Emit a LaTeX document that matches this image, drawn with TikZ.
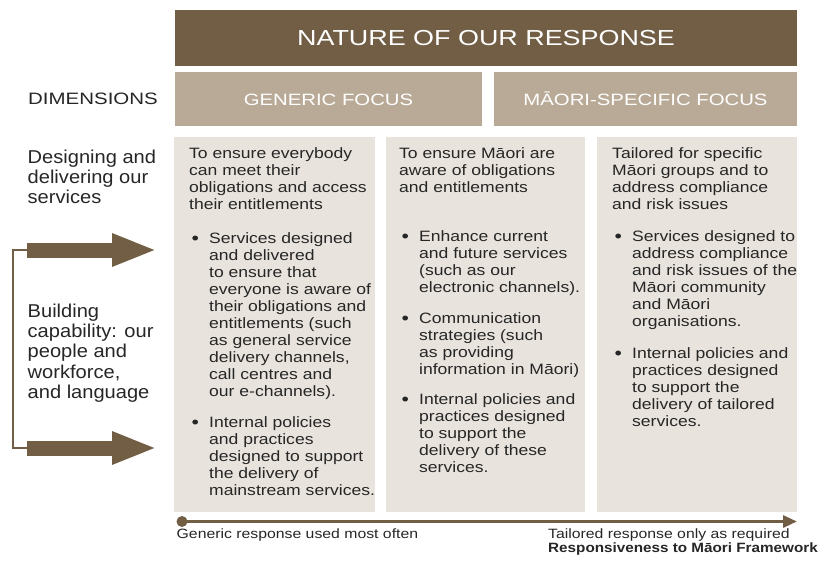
\documentclass[tikz,border=0pt]{standalone}
\usepackage{fontspec}
\setmainfont{Liberation Sans}[FakeStretch=1.17]
\newfontfamily\labelfont{Liberation Sans}[FakeStretch=1.08]
\newfontfamily\headfont{Liberation Sans}[FakeStretch=1.13]
\newfontfamily\capsfont{Liberation Sans}[FakeStretch=1.24]
\usetikzlibrary{arrows.meta}

\definecolor{barbrown}{HTML}{725D45}
\definecolor{focustan}{HTML}{B9AA97}
\definecolor{colgrey}{HTML}{E8E3DC}
\definecolor{inktext}{HTML}{262626}

% column text: plain paragraph and bulleted paragraph
\newcommand{\colfont}{\fontsize{15}{17}\selectfont}
\newcommand{\blt}{\makebox[20pt][l]{\hspace{2.5pt}\raisebox{-1pt}{\scalebox{1.2}{\textbullet}}}}
\newcommand{\ipar}[1]{\parbox[t]{230pt}{\colfont #1}}
\newcommand{\bpar}[1]{\parbox[t]{230pt}{\colfont\hangindent=20pt\hangafter=1\noindent\blt #1}}
\newcommand{\spar}[1]{\parbox[t]{160pt}{\labelfont\fontsize{18.6}{20.4}\selectfont #1}}

\tikzset{
  titlebar/.style={fill=barbrown,text=white,inner sep=0,minimum width=622pt,minimum height=56pt,
    text height=16pt,text depth=0pt,font=\capsfont\fontsize{21.7}{24}\selectfont},
  focusbox/.style={fill=focustan,text=white,inner sep=0,minimum height=54pt,
    text height=12pt,text depth=0pt,font=\capsfont\fontsize{16.4}{18}\selectfont},
  colbox/.style={fill=colgrey,inner sep=0,minimum height=375pt,anchor=north west},
  coltext/.style={anchor=base west,inner sep=0,text=inktext},
  sidelabel/.style={anchor=base west,inner sep=0,text=inktext},
  sidearrow/.style={barbrown,line width=15pt,-{Triangle[length=45pt,width=30pt]}},
  footnote/.style={anchor=base west,inner sep=0,text=inktext,font=\fontsize{13.5}{14}\selectfont}
}

\begin{document}
\begin{tikzpicture}[x=1pt,y=-1pt]
  \useasboundingbox (0,0) rectangle (819,560);

  % header rows
  \node[titlebar] (title) at (486,37.5) {NATURE OF OUR RESPONSE};
  \node[focusbox,minimum width=307pt] (generic) at (328.5,99) {GENERIC FOCUS};
  \node[focusbox,minimum width=303pt] (maori) at (645.5,99) {MĀORI-SPECIFIC FOCUS};
  \node[anchor=base west,inner sep=0,text=inktext,font=\capsfont\fontsize{16.5}{18}\selectfont]
    (dims) at (28,104.3) {DIMENSIONS};

  % three columns
  \node[colbox,minimum width=201pt] (col1) at (174,137) {};
  \node[colbox,minimum width=199pt] (col2) at (386,137) {};
  \node[colbox,minimum width=200pt] (col3) at (597,137) {};

  \node[coltext] (c1i) at (189,158.5) {\ipar{To ensure everybody\\can meet their\\obligations and access\\their entitlements}};
  \node[coltext] (c1a) at (189,243) {\bpar{Services designed\\and delivered\\to ensure that\\everyone is aware of\\their obligations and\\entitlements (such\\as general service\\delivery channels,\\call centres and\\our e-channels).}};
  \node[coltext] (c1b) at (189,427) {\bpar{Internal policies\\and practices\\designed to support\\the delivery of\\mainstream services.}};

  \node[coltext] (c2i) at (399,158.5) {\ipar{To ensure Māori are\\aware of obligations\\and entitlements}};
  \node[coltext] (c2a) at (399,241) {\bpar{Enhance current\\and future services\\(such as our\\electronic channels).}};
  \node[coltext] (c2b) at (399,323) {\bpar{Communication\\strategies (such\\as providing\\information in Māori)}};
  \node[coltext] (c2c) at (399,404) {\bpar{Internal policies and\\practices designed\\to support the\\delivery of these\\services.}};

  \node[coltext] (c3i) at (612,158.5) {\ipar{Tailored for specific\\Māori groups and to\\address compliance\\and risk issues}};
  \node[coltext] (c3a) at (612,241) {\bpar{Services designed to\\address compliance\\and risk issues of the\\Māori community\\and Māori\\organisations.}};
  \node[coltext] (c3b) at (612,358) {\bpar{Internal policies and\\practices designed\\to support the\\delivery of tailored\\services.}};

  % left-hand dimensions
  \node[sidelabel] (design) at (27.5,163) {\spar{Designing and\\delivering our\\services}};
  \node[sidelabel] (build) at (27.5,317) {\spar{Building\\capability: our\\people and\\workforce,\\and language}};

  \coordinate (ua) at (27,250);
  \coordinate (ub) at (157,250);
  \coordinate (la) at (27,448);
  \coordinate (lb) at (157,448);
  \draw[barbrown,line width=2.5pt] (ua) -- (13,250) |- (la);
  \draw[sidearrow] (ua) -- (ub);
  \draw[sidearrow] (la) -- (lb);

  % response scale
  \coordinate (tl0) at (182,521.5);
  \coordinate (tl1) at (797,521.5);
  \draw[barbrown,line width=3pt,-{Triangle[length=14pt,width=12pt]}] (tl0) -- (tl1);
  \fill[barbrown] (tl0) circle (5.5pt);
  \node[footnote] (often) at (176.5,538.3) {Generic response used most often};
  \node[footnote] (tailor) at (548,538.3) {Tailored response only as required};
  \node[footnote,font=\headfont\bfseries\fontsize{13.5}{14}\selectfont] (rmf) at (548,552.3)
    {Responsiveness to Māori Framework};
\end{tikzpicture}
\end{document}
